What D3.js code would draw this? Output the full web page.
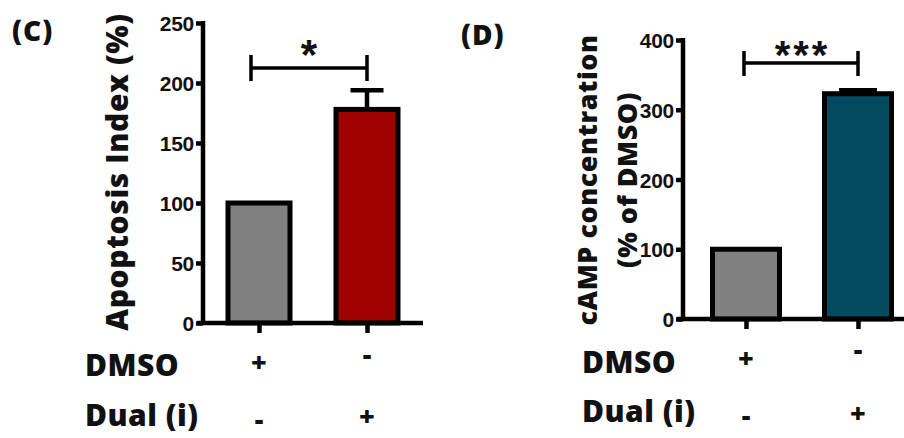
<!DOCTYPE html>
<html><head><meta charset="utf-8">
<script src="https://cdn.jsdelivr.net/npm/d3@7"></script>
<style>
body{margin:0;background:#fff;}
svg{display:block;}
</style></head>
<body><svg id="c" width="904" height="438"></svg>
<script>
const groups = ["DMSO", "Dual (i)"];
const dmsoSigns = ["+", "-"];
const dualSigns = ["-", "+"];

const apopValues = [100, 178];
const apopErrors = [0, 16];
const apopTicks = [0, 50, 100, 150, 200, 250];

const campValues = [100, 323];
const campErrors = [0, 5];
const campTicks = [0, 100, 200, 300, 400];

const svg = d3.select("#c");
const LW = 4.5;
const SANS = "Open Sans, sans-serif";
const ARIAL = "Liberation Sans, Arial, sans-serif";
const W = 800;

function panel(o) {
  const g = svg.append("g");
  const y = d3.scaleLinear().domain(o.domain).range([o.y0, o.y1]);
  const x = d3.scalePoint().domain(groups).range([o.cx0, o.cx1]);

  g.selectAll("rect.bar").data(o.values).enter().append("rect")
    .attr("x", (d, i) => x(groups[i]) - o.bw / 2)
    .attr("y", d => y(d))
    .attr("width", o.bw)
    .attr("height", d => y(0) - y(d))
    .attr("fill", (d, i) => o.colors[i])
    .attr("stroke", "#000").attr("stroke-width", 5);

  o.values.forEach((v, i) => {
    if (!o.errors[i]) return;
    const cx = x(groups[i]);
    g.append("line").attr("x1", cx).attr("x2", cx)
      .attr("y1", y(v)).attr("y2", y(v + o.errors[i]))
      .attr("stroke", "#000").attr("stroke-width", LW);
    g.append("line").attr("x1", cx - o.capw / 2).attr("x2", cx + o.capw / 2)
      .attr("y1", y(v + o.errors[i])).attr("y2", y(v + o.errors[i]))
      .attr("stroke", "#000").attr("stroke-width", LW);
  });

  const ya = g.append("g").attr("transform", `translate(${o.ax},0)`)
    .call(d3.axisLeft(y).tickValues(o.ticks).tickSize(7).tickSizeOuter(0));
  ya.select(".domain").attr("stroke", "#000").attr("stroke-width", LW)
    .attr("d", `M0,${o.y1 - 2}V${o.y0 + 2}`);
  ya.selectAll(".tick line").attr("stroke", "#000").attr("stroke-width", LW);
  ya.selectAll(".tick text").attr("x", -9).attr("dy", "0.36em")
    .attr("font-family", ARIAL).attr("font-weight", "bold")
    .attr("font-size", 21).attr("letter-spacing", -0.3).attr("fill", "#111");

  const xa = g.append("g").attr("transform", `translate(0,${o.y0})`)
    .call(d3.axisBottom(x).tickSize(10).tickSizeOuter(0).tickFormat(""));
  xa.select(".domain").attr("stroke", "#000").attr("stroke-width", LW)
    .attr("d", `M${o.ax - 6},0H${o.xEnd}`);
  xa.selectAll(".tick line").attr("stroke", "#000").attr("stroke-width", LW);

  const bx0 = x(groups[0]) + o.bOff[0], bx1 = x(groups[1]) + o.bOff[1];
  g.append("path")
    .attr("d", `M${bx0},${o.bTop}V${o.bBot}M${bx0},${o.bY}H${bx1}M${bx1},${o.bTop}V${o.bBot}`)
    .attr("fill", "none").attr("stroke", "#000").attr("stroke-width", 3.5);
  g.append("text").attr("x", (bx0 + bx1) / 2 + o.starLS / 2).attr("y", o.starY)
    .attr("text-anchor", "middle").attr("font-family", ARIAL)
    .attr("font-weight", "bold").attr("font-size", o.starSize).attr("letter-spacing", o.starLS)
    .attr("fill", "#111").text(o.stars);

  const lbl = g.append("text").attr("transform", `translate(${o.lx},${o.ly}) rotate(-90)`)
    .attr("text-anchor", "middle").attr("font-family", SANS)
    .attr("font-weight", W).attr("font-size", o.lSize).attr("letter-spacing", o.lLS)
    .attr("fill", "#111");
  o.label.forEach((t, i) => lbl.append("tspan").attr("x", 0).attr("dy", i ? o.lGap : 0).text(t));

  g.append("text").attr("x", o.px).attr("y", o.py)
    .attr("font-family", SANS).attr("font-weight", W).attr("letter-spacing", 1)
    .attr("font-size", 28).attr("fill", "#111").text(o.letter);

  const rowFont = t => t.attr("font-family", SANS).attr("font-weight", W).attr("fill", "#111");
  rowFont(g.append("text").attr("x", o.rx).attr("y", o.r1).attr("font-size", 30).attr("letter-spacing", 0.5)).text(groups[0]);
  rowFont(g.append("text").attr("x", o.rx).attr("y", o.r2).attr("font-size", 30).attr("letter-spacing", 0.5)).text(groups[1]);
  [dmsoSigns, dualSigns].forEach((signs, r) => {
    signs.forEach((s, i) => {
      const c = o.signC[r][i];
      const base = s === "+" ? c + 0.36 * 27 : c + 0.25 * 27;
      rowFont(g.append("text").attr("x", x(groups[i])).attr("y", base)
        .attr("text-anchor", "middle").attr("font-size", 27)).text(s);
    });
  });
}

panel({
  domain: [0, 250], y0: 323, y1: 23, cx0: 259, cx1: 367, bw: 62, capw: 33,
  values: apopValues, errors: apopErrors, ticks: apopTicks,
  colors: ["#808080", "#a00000"], ax: 203, xEnd: 423,
  bTop: 55, bBot: 81, bY: 68, bOff: [-8, 0], stars: "*", starY: 69, starSize: 42, starLS: 0,
  label: ["Apoptosis Index (%)"], lx: 128, ly: 172, lSize: 30, lLS: 0.6, lGap: 0,
  letter: "(C)", px: 12, py: 41, rx: 85, r1: 376, r2: 426,
  signC: [[362, 357], [422, 416]]
});

panel({
  domain: [0, 400], y0: 319, y1: 40, cx0: 746, cx1: 858, bw: 67, capw: 38,
  values: campValues, errors: campErrors, ticks: campTicks,
  colors: ["#808080", "#034a5e"], ax: 683, xEnd: 904,
  bTop: 51, bBot: 76, bY: 63, bOff: [-2, 0], stars: "***", starY: 69, starSize: 40, starLS: 3,
  label: ["cAMP concentration", "(% of DMSO)"], lx: 597, ly: 180, lSize: 27, lLS: 0.5, lGap: 40,
  letter: "(D)", px: 461, py: 45, rx: 582, r1: 373, r2: 422,
  signC: [[358, 352], [418, 413]]
});
</script>
</body></html>
